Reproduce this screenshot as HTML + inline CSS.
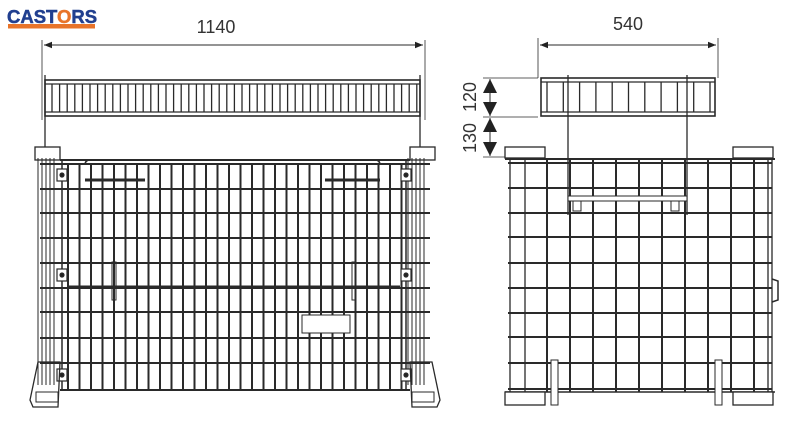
<!DOCTYPE html>
<html><head><meta charset="utf-8"><style>
html,body{margin:0;padding:0;background:#fff;}
svg{display:block}
</style></head><body>
<svg id="s" width="800" height="421" viewBox="0 0 800 421" xmlns="http://www.w3.org/2000/svg">
<defs><marker id="a" viewBox="0 0 10 10" refX="10" refY="5" markerWidth="8" markerHeight="8" orient="auto-start-reverse"><path d="M0,1L10,5L0,9z" fill="#222"/></marker>
<marker id="b" viewBox="0 0 10 10" refX="10" refY="5" markerWidth="14" markerHeight="14" markerUnits="userSpaceOnUse" orient="auto-start-reverse"><path d="M0,0L10,5L0,10z" fill="#222"/></marker></defs>
<!-- logo -->
<text x="7" y="23" font-family="Liberation Sans, sans-serif" font-weight="bold" font-size="18.5" fill="#213f8f" stroke="#213f8f" stroke-width="0.5">CAST<tspan fill="#e8742a" stroke="#e8742a">O</tspan>RS</text>
<rect x="8" y="24" width="87" height="4.5" fill="#e8742a"/>
<g id="g" stroke="#2a2a2a" fill="none" stroke-width="1.2"></g>
<g font-family="Liberation Sans, sans-serif" font-size="18" fill="#333">
<text x="216" y="33" text-anchor="middle">1140</text>
<text x="628" y="30" text-anchor="middle">540</text>
<text transform="translate(476,97) rotate(-90)" text-anchor="middle">120</text>
<text transform="translate(476,138) rotate(-90)" text-anchor="middle">130</text>
</g>
</svg>
<script>
var g=document.getElementById('g'),o='';
function L(x1,y1,x2,y2,w){o+='<line x1="'+x1+'" y1="'+y1+'" x2="'+x2+'" y2="'+y2+'"'+(w?' stroke-width="'+w+'"':'')+'/>';}
function R(x,y,w,h,sw,f){o+='<rect x="'+x+'" y="'+y+'" width="'+w+'" height="'+h+'"'+(sw?' stroke-width="'+sw+'"':'')+(f?' fill="'+f+'"':'')+'/>';}
function P(d,sw){o+='<path d="'+d+'"'+(sw?' stroke-width="'+sw+'"':'')+'/>';}
L(42,40,42,120,0.8);L(425,40,425,120,0.8);
o+='<line x1="44" y1="45" x2="423" y2="45" stroke-width="1" marker-start="url(#a)" marker-end="url(#a)"/>';
L(538,38,538,78,0.8);L(718,38,718,78,0.8);
o+='<line x1="540" y1="45" x2="716" y2="45" stroke-width="1" marker-start="url(#a)" marker-end="url(#a)"/>';
L(483,78,538,78,0.8);L(483,117,538,117,0.8);L(483,157,505,157,0.8);
o+='<line x1="490" y1="79" x2="490" y2="116" stroke-width="1" marker-start="url(#b)" marker-end="url(#b)"/>';
o+='<line x1="490" y1="118" x2="490" y2="156" stroke-width="1" marker-start="url(#b)" marker-end="url(#b)"/>';
R(45,80,375,36,1.6);L(45,84,420,84);L(45,112,420,112);
for(var x=52;x<417;x+=7.6)L(x,84,x,112,1.3);
L(45,75,45,150,1.3);L(420,75,420,150,1.3);
R(35,147,25,13,1.3,'#fff');R(410,147,25,13,1.3,'#fff');
P('M60,160 L410,160',2);
var hs=[164,189,213,238,263,288,312,338,363];
for(var i=0;i<hs.length;i++){L(40,hs[i],430,hs[i],2);}
L(60,390,410,390,2);
for(var x=68;x<408;x+=11.5)L(x,164,x,390,2);
for(var k=0;k<2;k++){var b=k?408:38;for(var j=0;j<5;j++)L(b+j*4,158,b+j*4,385,1);}
L(62,160,62,390,1.5);L(406,160,406,390,1.5);
[175,275,375].forEach(function(y){R(57,y-6,10,12,1.2,'#fff');o+='<circle cx="62" cy="'+y+'" r="2" fill="#222"/>';R(401,y-6,10,12,1.2,'#fff');o+='<circle cx="406" cy="'+y+'" r="2" fill="#222"/>';});
L(85,180,145,180,3);L(325,180,380,180,3);
P('M85,165 Q85,160 90,160 M380,165 Q380,160 375,160',1.5);
L(68,287,400,287,3);
R(112,262,4,38,1);R(352,262,4,38,1);
R(302,315,48,18,1,'#fff');
P('M38,362 L30,400 L33,407 L58,407 L60,362 Z',1.3);R(36,392,22,10,1);
P('M432,362 L440,400 L437,407 L412,407 L410,362 Z',1.3);R(412,392,22,10,1);
R(541,78,174,38,1.6);L(541,82,715,82);L(541,112,715,112);
for(var x=547;x<712;x+=16.3)L(x,82,x,112,1.3);
L(568,75,568,215,1.3);L(687,75,687,215,1.3);
R(505,147,40,11,1.3,'#fff');R(733,147,40,11,1.3,'#fff');
L(505,159,775,159,2);
var hr=[163,188,213,237,263,288,313,337,363,389];
hr.forEach(function(y){L(508,y,772,y,2);});
[510,525,768,772].forEach(function(x){L(x,159,x,392,1.3);});
for(var x=547;x<760;x+=23)L(x,159,x,392,2);
L(505,392,775,392,1.5);
R(568,196,119,5,1,'#fff');R(573,201,8,10,1);R(671,201,8,10,1);
P('M772,279 L778,281 L778,300 L772,302',1.5);
R(505,392,40,13,1.3,'#fff');R(733,392,40,13,1.3,'#fff');
R(551,360,7,45,1,'#fff');R(715,360,7,45,1,'#fff');
g.innerHTML=o;
</script>
</body></html>
